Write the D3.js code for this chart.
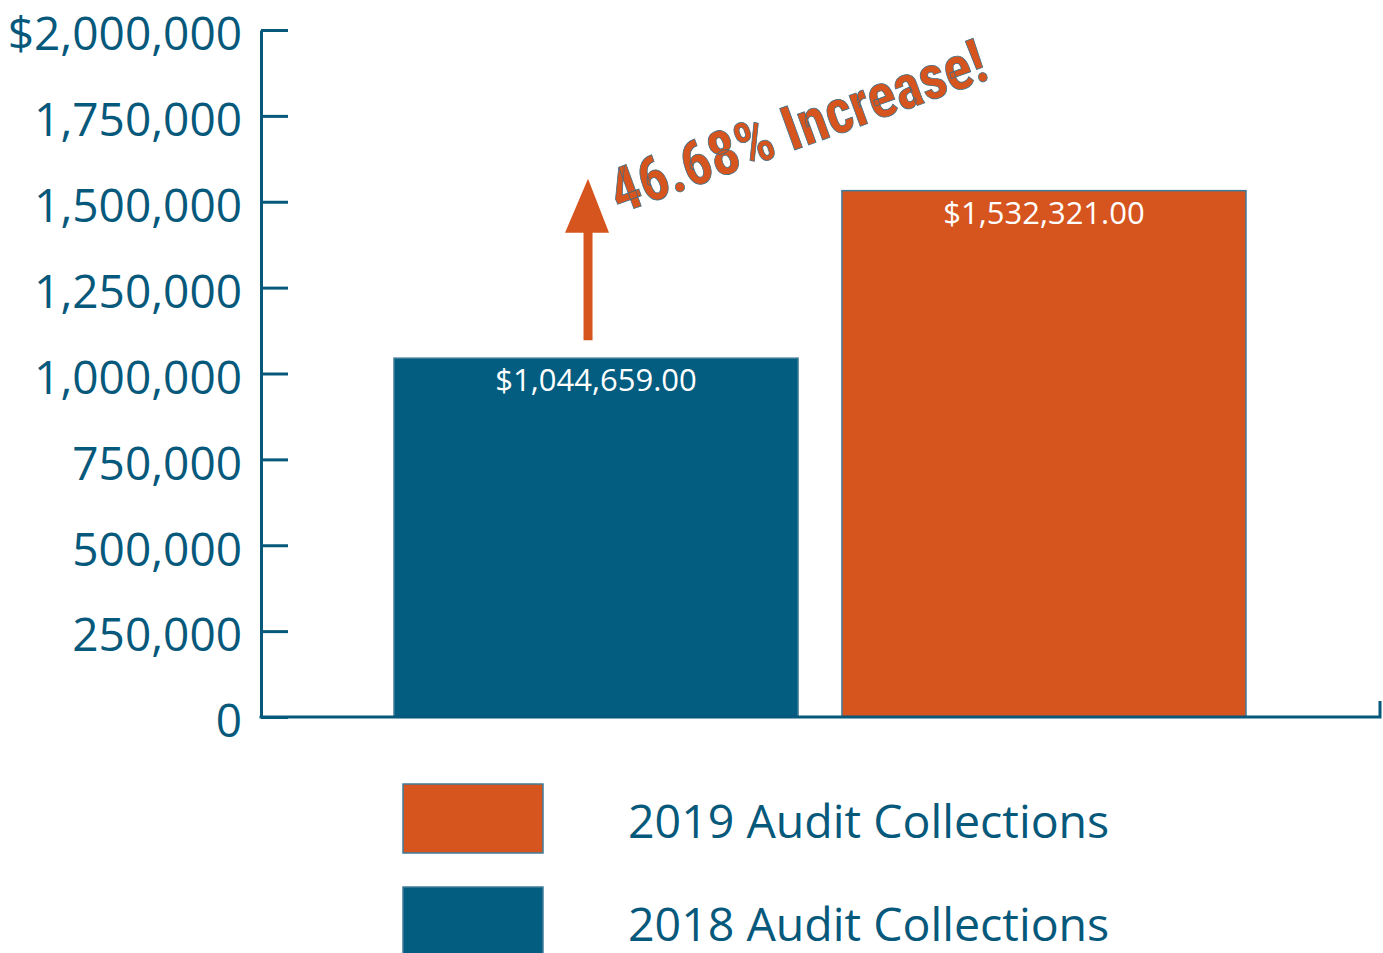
<!DOCTYPE html>
<html>
<head>
<meta charset="utf-8">
<script src="https://cdn.jsdelivr.net/npm/d3@7"></script>
<style>
  html, body { margin: 0; padding: 0; background: #ffffff; }
  svg { display: block; }
</style>
</head>
<body>
<script>
// ---- data ----
const categories = ["2018 Audit Collections", "2019 Audit Collections"];
const values = [1044659, 1532321];
const valueLabels = ["$1,044,659.00", "$1,532,321.00"];
const tickValues = [0, 250000, 500000, 750000, 1000000, 1250000, 1500000, 1750000, 2000000];
const tickLabels = ["0", "250,000", "500,000", "750,000", "1,000,000", "1,250,000", "1,500,000", "1,750,000", "$2,000,000"];
const legendOrder = ["2019 Audit Collections", "2018 Audit Collections"];
const annotation = "46.68% Increase!";

// ---- style ----
const W = 1383, H = 953;
const BLUE = "#025d80";
const ORANGE = "#d6541e";
const TEXT = "#07597c";
const EDGE = "#3f7c99";
const colors = { "2018 Audit Collections": BLUE, "2019 Audit Collections": ORANGE };
const FONT = "'Open Sans', 'Noto Sans', sans-serif";

const svg = d3.select("body").append("svg").attr("width", W).attr("height", H);

const axisX = 261;
const y = d3.scaleLinear().domain([0, 2000000]).range([717, 30]);
const x = d3.scaleBand().domain(categories).range([394, 1246]).paddingInner(0.098).paddingOuter(0);

// bars
svg.append("g").selectAll("rect").data(categories).join("rect")
  .attr("x", d => x(d))
  .attr("y", (d, i) => y(values[i]))
  .attr("width", x.bandwidth())
  .attr("height", (d, i) => y(0) - y(values[i]))
  .attr("fill", d => colors[d])
  .attr("stroke", EDGE)
  .attr("stroke-width", 1.5);

// value labels
svg.append("g").selectAll("text").data(categories).join("text")
  .attr("x", d => x(d) + x.bandwidth() / 2)
  .attr("y", (d, i) => y(values[i]) + 33)
  .attr("text-anchor", "middle")
  .attr("fill", "#ffffff")
  .attr("font-family", FONT)
  .attr("font-size", 31)
  .text((d, i) => valueLabels[i]);

// y axis line + ticks (to the right)
const axisR = d3.axisRight(y).tickValues(tickValues).tickSize(27).tickSizeOuter(0).tickFormat("");
const gR = svg.append("g").attr("transform", `translate(${axisX},0)`).call(axisR);
gR.selectAll("path.domain").attr("stroke", TEXT).attr("stroke-width", 3);
gR.selectAll(".tick line").attr("stroke", TEXT).attr("stroke-width", 3);

// tick labels
const axisL = d3.axisLeft(y).tickValues(tickValues).tickSize(0).tickPadding(19)
  .tickFormat((d, i) => tickLabels[i]);
const gL = svg.append("g").attr("transform", `translate(${axisX},0)`).call(axisL);
gL.select("path.domain").remove();
gL.selectAll(".tick text")
  .attr("fill", TEXT)
  .attr("font-family", FONT)
  .attr("font-size", 46)
  .attr("dy", "0.43em");

// baseline with small end tick
svg.append("path")
  .attr("d", `M${axisX - 1.5},${y(0)} H1380 V${y(0) - 16}`)
  .attr("fill", "none")
  .attr("stroke", TEXT)
  .attr("stroke-width", 3);

// annotation arrow
const ax = x(categories[0]) + x.bandwidth() / 2 - 8;
const yBottom = y(values[0]) - 18;
const yTip = y(values[1]) - 12;
const headBase = yTip + 54;
svg.append("path")
  .attr("d", `M${ax - 4.5},${yBottom} V${headBase} H${ax - 23} L${ax},${yTip} L${ax + 21},${headBase} H${ax + 4.5} V${yBottom} Z`)
  .attr("fill", ORANGE);

// annotation text
svg.append("text")
  .attr("transform", "translate(619,214) rotate(-20)")
  .attr("fill", ORANGE)
  .attr("stroke", "#3d6e86")
  .attr("stroke-width", 0.8)
  .attr("font-family", "'Liberation Sans Narrow', 'Roboto Condensed', 'Open Sans', sans-serif")
  .attr("font-weight", "bold")
  .attr("font-size", 62)
  .attr("textLength", 396)
  .attr("lengthAdjust", "spacingAndGlyphs")
  .text(annotation);

// legend
const lg = svg.append("g").selectAll("g").data(legendOrder).join("g")
  .attr("transform", (d, i) => `translate(403,${784 + i * 103})`);
lg.append("rect")
  .attr("width", 140).attr("height", 69)
  .attr("fill", d => colors[d])
  .attr("stroke", EDGE).attr("stroke-width", 1.5);
lg.append("text")
  .attr("x", 225).attr("y", 54)
  .attr("fill", TEXT)
  .attr("font-family", FONT)
  .attr("font-size", 46.5)
  .text(d => d);
</script>
</body>
</html>
